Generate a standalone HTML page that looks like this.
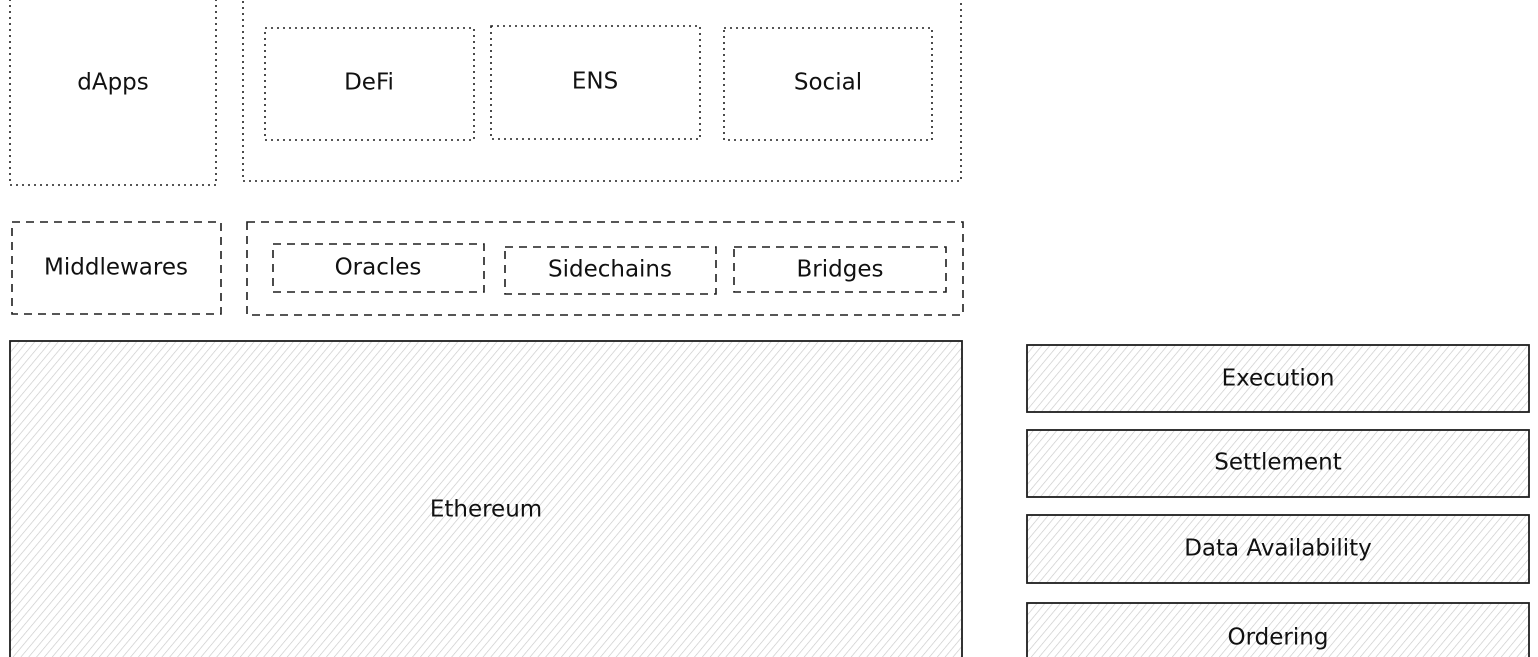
<!DOCTYPE html>
<html><head><meta charset="utf-8"><style>
html,body{margin:0;padding:0;background:#fff;}
svg{display:block}
text{font-family:"DejaVu Sans","Liberation Sans",sans-serif;font-size:23px;fill:#111;text-anchor:middle;dominant-baseline:middle}
</style></head><body>
<svg width="1538" height="657" viewBox="0 0 1538 657" xmlns="http://www.w3.org/2000/svg">
<defs>
<pattern id="h" width="6" height="6" patternUnits="userSpaceOnUse" patternTransform="rotate(40)">
<line x1="0" y1="0" x2="0" y2="6" stroke="#c8c8c8" stroke-width="1.3"/>
</pattern>
</defs>
<g fill="none" stroke="#1e1e1e" stroke-width="1.6" stroke-dasharray="2 4">
<rect x="10" y="-5" width="206" height="190"/>
<rect x="243" y="-5" width="718" height="186"/>
<rect x="265" y="28" width="209" height="112"/>
<rect x="491" y="26" width="209" height="113"/>
<rect x="724" y="28" width="208" height="112"/>
</g>
<g fill="none" stroke="#1e1e1e" stroke-width="1.6" stroke-dasharray="8 6">
<rect x="12" y="222" width="209" height="92"/>
<rect x="247" y="222" width="716" height="93"/>
<rect x="273" y="244" width="211" height="48"/>
<rect x="505" y="247" width="211" height="47"/>
<rect x="734" y="247" width="212" height="45"/>
</g>
<g fill="url(#h)" stroke="#1e1e1e" stroke-width="1.8">
<rect x="10" y="341" width="952" height="320"/>
<rect x="1027" y="345" width="502" height="67"/>
<rect x="1027" y="430" width="502" height="67"/>
<rect x="1027" y="515" width="502" height="68"/>
<rect x="1027" y="603" width="502" height="60"/>
</g>
<text x="113" y="83">dApps</text>
<text x="369" y="83">DeFi</text>
<text x="595" y="82">ENS</text>
<text x="828" y="83">Social</text>
<text x="116" y="268">Middlewares</text>
<text x="378" y="268">Oracles</text>
<text x="610" y="270">Sidechains</text>
<text x="840" y="270">Bridges</text>
<text x="486" y="510">Ethereum</text>
<text x="1278" y="379">Execution</text>
<text x="1278" y="463">Settlement</text>
<text x="1278" y="549">Data Availability</text>
<text x="1278" y="638">Ordering</text>
</svg>
</body></html>
